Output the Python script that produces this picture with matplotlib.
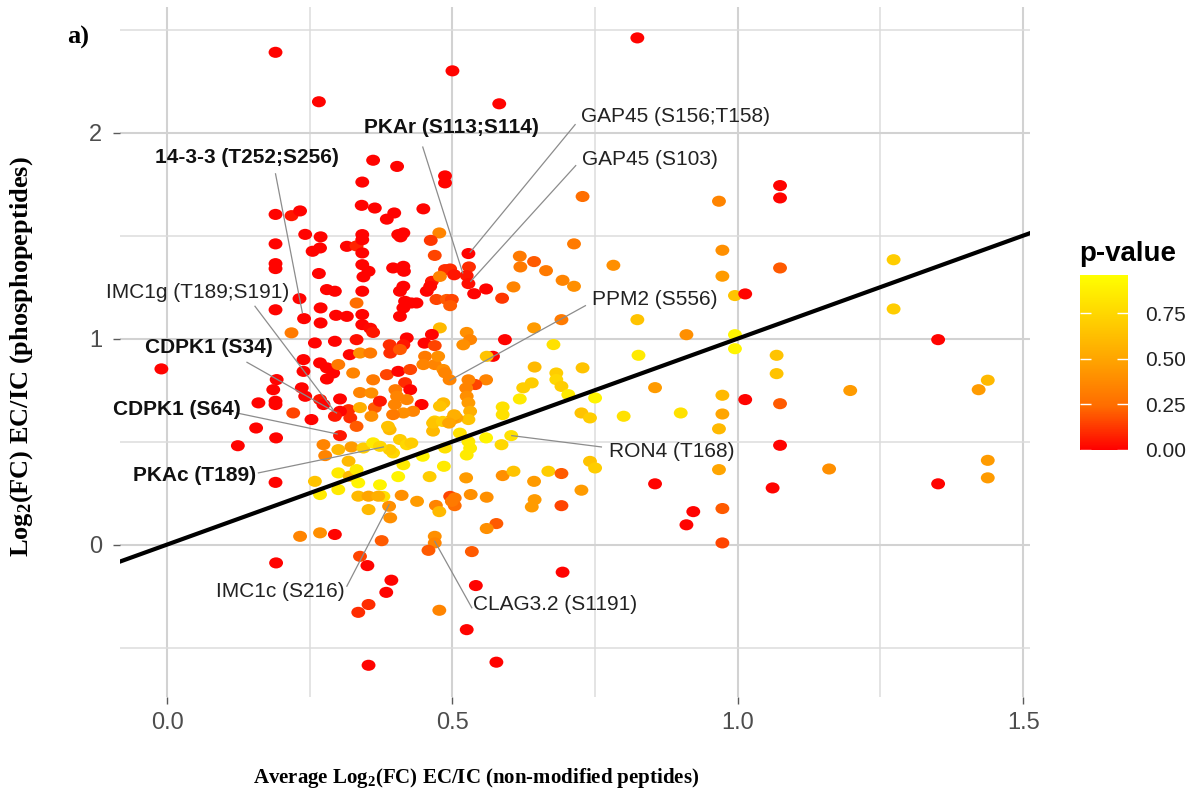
import matplotlib
matplotlib.use("Agg")
import matplotlib.pyplot as plt
import numpy as np
from matplotlib.path import Path
from matplotlib.colors import LinearSegmentedColormap, Normalize
from matplotlib.cm import ScalarMappable

# ---------------- data ----------------
avg_log2fc_nonmod = [
    0.19, 0.266, 0.50, 0.582, 0.824,
    0.361, 0.342, 0.341, 0.364, 0.19, 0.218, 0.233, 0.242, 0.269, 0.19, 0.255, 0.268, 0.315, 0.332,
    0.342, 0.342, 0.342, 0.342, 0.344, 0.353, 0.19, 0.19, 0.266, 0.28, 0.294, 0.342, 0.232, 0.332,
    0.19, 0.269, 0.24, 0.269, 0.296, 0.315, 0.342, 0.342, 0.356, 0.361, 0.218, 0.259, 0.294, 0.332,
    0.403, 0.487, 0.487, 0.398, 0.385, 0.449, 0.405, 0.409, 0.414, 0.477, 0.462, 0.469, 0.528, 0.529,
    0.525, 0.528, 0.538, 0.559, 0.587, 0.607, 0.618, 0.619, 0.643, 0.664, 0.693, 0.713, 0.713, 0.728,
    0.691, 0.643, 0.677, 0.592, 0.396, 0.414, 0.415, 0.414, 0.408, 0.417, 0.414, 0.428, 0.437, 0.408,
    0.455, 0.464, 0.461, 0.487, 0.496, 0.503, 0.478, 0.472, 0.49, 0.499, 0.496, 0.478, 0.464, 0.42,
    0.39, 0.414, 0.451, 0.469, 0.525, 0.531, 0.519,
    -0.01, 0.239, 0.268, 0.28, 0.291, 0.30, 0.239, 0.28, 0.192, 0.186, 0.236, 0.242, 0.268, 0.274,
    0.303, 0.318, 0.321, 0.332, 0.303, 0.294, 0.16, 0.19, 0.19, 0.221, 0.253, 0.156, 0.191, 0.124,
    0.303, 0.274, 0.277, 0.30, 0.323, 0.344, 0.318, 0.30, 0.32, 0.332, 0.259, 0.268, 0.30, 0.335,
    0.353, 0.353, 0.335, 0.233, 0.268, 0.294, 0.338, 0.191, 0.338, 0.358, 0.364, 0.358, 0.338, 0.326,
    0.19, 0.32, 0.338, 0.356, 0.361,
    0.571, 0.56, 0.495, 0.644, 0.682, 0.682, 0.691, 0.728, 0.624, 0.639, 0.618, 0.703, 0.75, 0.726,
    0.741, 0.588, 0.588, 0.559, 0.54, 0.528, 0.524, 0.525, 0.528, 0.531, 0.528, 0.507, 0.499, 0.484,
    0.478, 0.469, 0.466, 0.513, 0.528, 0.531, 0.525, 0.559, 0.586, 0.603, 0.487, 0.485, 0.46, 0.448,
    0.405, 0.414, 0.396, 0.39, 0.39, 0.387, 0.408, 0.42, 0.428, 0.524, 0.588, 0.607, 0.668, 0.691,
    0.643, 0.741, 0.75, 0.726, 0.644, 0.639, 0.691, 0.373, 0.379, 0.411, 0.438, 0.471, 0.477, 0.496,
    0.504, 0.504, 0.499, 0.532, 0.56, 0.577, 0.56, 0.389, 0.391, 0.469, 0.469, 0.458, 0.534, 0.376,
    0.391, 0.408, 0.452, 0.449, 0.469, 0.475, 0.484, 0.487, 0.385, 0.405, 0.426, 0.417, 0.426, 0.40,
    0.403, 0.42, 0.446, 0.431, 0.414, 0.396, 0.399, 0.373, 0.466, 0.483, 0.503, 0.494,
    0.967, 1.074, 1.074, 0.973, 0.782, 1.074, 0.973, 0.995, 1.013, 1.273, 1.273, 0.824, 0.91, 0.995,
    0.995, 1.351, 0.826, 0.855, 0.973, 1.013, 1.068, 1.068, 1.074, 1.197, 1.422, 1.438, 0.80, 0.90,
    0.973, 0.967, 1.074, 0.967, 1.16, 1.438, 1.438, 0.855, 1.061, 1.351, 0.922, 0.91, 0.973, 0.973,
    0.351, 0.393, 0.384, 0.353, 0.335, 0.353, 0.477, 0.541, 0.525, 0.577, 0.693, 0.37, 0.361, 0.373,
]
log2fc_phospho = [
    2.39, 2.15, 2.30, 2.14, 2.46,
    1.866, 1.76, 1.647, 1.634, 1.603, 1.597, 1.62, 1.506, 1.494, 1.46, 1.424, 1.44, 1.448, 1.45,
    1.505, 1.48, 1.416, 1.359, 1.30, 1.327, 1.364, 1.34, 1.316, 1.238, 1.23, 1.23, 1.194, 1.173,
    1.14, 1.149, 1.097, 1.076, 1.113, 1.108, 1.117, 1.068, 1.05, 1.03, 1.028, 0.979, 0.987, 0.995,
    1.836, 1.79, 1.756, 1.61, 1.58, 1.63, 1.505, 1.494, 1.513, 1.513, 1.477, 1.404, 1.413, 1.348,
    1.306, 1.267, 1.218, 1.241, 1.196, 1.251, 1.40, 1.348, 1.374, 1.33, 1.283, 1.254, 1.46, 1.69,
    1.092, 1.052, 0.971, 0.995, 1.343, 1.351, 1.327, 1.254, 1.23, 1.181, 1.149, 1.173, 1.173, 1.108,
    1.23, 1.278, 1.254, 1.335, 1.338, 1.31, 1.302, 1.19, 1.19, 1.19, 1.16, 1.052, 1.02, 1.003,
    0.97, 0.97, 0.978, 0.966, 1.03, 0.995, 0.97,
    0.853, 0.898, 0.882, 0.858, 0.833, 0.874, 0.841, 0.804, 0.801, 0.752, 0.761, 0.72, 0.704, 0.68,
    0.707, 0.655, 0.615, 0.574, 0.647, 0.623, 0.688, 0.696, 0.68, 0.639, 0.607, 0.566, 0.518, 0.48,
    0.529, 0.485, 0.432, 0.461, 0.474, 0.469, 0.405, 0.348, 0.332, 0.364, 0.307, 0.243, 0.267, 0.235,
    0.235, 0.17, 0.30, 0.04, 0.057, 0.049, -0.057, -0.089, 0.738, 0.736, 0.665, 0.623, 0.665, 0.833,
    0.302, 0.922, 0.93, 0.93, 0.80,
    0.914, 0.914, 0.80, 0.862, 0.833, 0.801, 0.768, 0.858, 0.761, 0.785, 0.707, 0.728, 0.712, 0.639,
    0.615, 0.668, 0.631, 0.80, 0.777, 0.80, 0.76, 0.72, 0.688, 0.647, 0.607, 0.615, 0.607, 0.688,
    0.672, 0.60, 0.551, 0.541, 0.50, 0.468, 0.435, 0.518, 0.485, 0.529, 0.469, 0.38, 0.33, 0.429,
    0.33, 0.388, 0.445, 0.461, 0.558, 0.574, 0.51, 0.485, 0.493, 0.324, 0.335, 0.356, 0.356, 0.345,
    0.307, 0.404, 0.372, 0.264, 0.218, 0.183, 0.189, 0.29, 0.234, 0.239, 0.21, 0.19, 0.16, 0.234,
    0.226, 0.189, 0.21, 0.243, 0.23, 0.102, 0.078, 0.186, 0.13, 0.04, 0.008, -0.028, -0.034, 0.019,
    0.93, 0.947, 0.914, 0.874, 0.874, 0.914, 0.85, 0.834, 0.825, 0.841, 0.85, 0.786, 0.752, 0.752,
    0.72, 0.704, 0.68, 0.647, 0.639, 0.631, 0.68, 0.696, 0.59, 0.598, 0.63, 0.59,
    1.667, 1.743, 1.683, 1.429, 1.356, 1.343, 1.303, 1.209, 1.217, 1.383, 1.144, 1.092, 1.019, 1.019,
    0.951, 0.995, 0.919, 0.762, 0.725, 0.704, 0.919, 0.83, 0.684, 0.748, 0.752, 0.798, 0.623, 0.639,
    0.634, 0.562, 0.482, 0.364, 0.367, 0.409, 0.324, 0.295, 0.275, 0.295, 0.16, 0.096, 0.175, 0.008,
    -0.102, -0.173, -0.232, -0.291, -0.329, -0.586, -0.319, -0.199, -0.413, -0.571, -0.134, 0.235, 0.494, 0.477,
]
p_value = [
    0.01, 0.01, 0.01, 0.01, 0.01,
    0.01, 0.01, 0.01, 0.01, 0.01, 0.05, 0.01, 0.01, 0.01, 0.01, 0.01, 0.01, 0.01, 0.08,
    0.01, 0.01, 0.01, 0.01, 0.01, 0.01, 0.01, 0.01, 0.01, 0.01, 0.01, 0.01, 0.01, 0.25,
    0.01, 0.01, 0.01, 0.01, 0.01, 0.01, 0.01, 0.01, 0.02, 0.05, 0.30, 0.01, 0.01, 0.03,
    0.01, 0.01, 0.01, 0.01, 0.01, 0.01, 0.01, 0.01, 0.01, 0.35, 0.12, 0.15, 0.01, 0.10,
    0.05, 0.03, 0.01, 0.01, 0.12, 0.35, 0.30, 0.30, 0.20, 0.30, 0.35, 0.40, 0.30, 0.25,
    0.30, 0.45, 0.80, 0.01, 0.01, 0.01, 0.01, 0.01, 0.01, 0.01, 0.01, 0.01, 0.01, 0.01,
    0.01, 0.05, 0.02, 0.10, 0.10, 0.05, 0.35, 0.15, 0.20, 0.15, 0.20, 0.60, 0.01, 0.01,
    0.10, 0.05, 0.01, 0.15, 0.40, 0.35, 0.40,
    0.01, 0.01, 0.01, 0.01, 0.01, 0.30, 0.01, 0.01, 0.01, 0.01, 0.01, 0.01, 0.05, 0.01,
    0.01, 0.10, 0.10, 0.20, 0.01, 0.05, 0.01, 0.01, 0.01, 0.15, 0.01, 0.01, 0.01, 0.01,
    0.05, 0.35, 0.35, 0.60, 0.45, 0.70, 0.60, 0.85, 0.60, 0.85, 0.65, 0.85, 0.85, 0.60,
    0.50, 0.60, 0.90, 0.35, 0.40, 0.01, 0.15, 0.01, 0.35, 0.40, 0.20, 0.40, 0.55, 0.35,
    0.01, 0.01, 0.40, 0.30, 0.30,
    0.01, 0.65, 0.35, 0.60, 0.70, 0.75, 0.70, 0.65, 0.70, 0.70, 0.85, 0.85, 0.90, 0.65,
    0.70, 0.80, 0.80, 0.35, 0.15, 0.35, 0.35, 0.40, 0.45, 0.55, 0.65, 0.50, 0.45, 0.60,
    0.65, 0.70, 0.60, 0.80, 0.85, 0.85, 0.85, 0.90, 0.75, 0.80, 0.80, 0.85, 0.70, 0.90,
    0.90, 0.85, 0.75, 0.70, 0.60, 0.65, 0.70, 0.75, 0.70, 0.45, 0.40, 0.65, 0.70, 0.20,
    0.45, 0.65, 0.70, 0.45, 0.45, 0.45, 0.15, 0.90, 0.80, 0.40, 0.45, 0.35, 0.60, 0.15,
    0.30, 0.25, 0.30, 0.40, 0.40, 0.20, 0.40, 0.40, 0.40, 0.40, 0.35, 0.20, 0.20, 0.20,
    0.10, 0.20, 0.30, 0.35, 0.35, 0.40, 0.40, 0.35, 0.15, 0.01, 0.15, 0.10, 0.01, 0.30,
    0.35, 0.35, 0.01, 0.35, 0.40, 0.30, 0.35, 0.05, 0.65, 0.70, 0.55, 0.50,
    0.35, 0.01, 0.01, 0.40, 0.40, 0.20, 0.45, 0.65, 0.01, 0.70, 0.70, 0.65, 0.40, 0.90,
    0.90, 0.01, 0.85, 0.45, 0.60, 0.01, 0.65, 0.65, 0.20, 0.45, 0.45, 0.60, 0.80, 0.80,
    0.50, 0.60, 0.01, 0.50, 0.40, 0.45, 0.45, 0.01, 0.01, 0.01, 0.01, 0.01, 0.20, 0.15,
    0.01, 0.01, 0.01, 0.10, 0.10, 0.01, 0.35, 0.01, 0.01, 0.01, 0.01, 0.55, 0.85, 0.75,
]

# labelled sites: text, text position, line start, line end (target point), bold
site_labels = ["14-3-3 (T252;S256)", "PKAr (S113;S114)", "GAP45 (S156;T158)", "GAP45 (S103)",
               "PPM2 (S556)", "RON4 (T168)", "IMC1g (T189;S191)", "CDPK1 (S34)",
               "CDPK1 (S64)", "PKAc (T189)", "IMC1c (S216)", "CLAG3.2 (S1191)"]
label_xy = [(0.14, 1.879), (0.499, 2.024), (0.89, 2.078), (0.846, 1.869),
            (0.855, 1.189), (0.884, 0.451), (0.053, 1.223), (0.074, 0.956),
            (0.018, 0.655), (0.049, 0.335), (0.198, -0.228), (0.68, -0.291)]
line_start = [(0.19, 1.80), (0.448, 1.93), (0.715, 2.039), (0.716, 1.84),
              (0.733, 1.16), (0.761, 0.474), (0.154, 1.157), (0.14, 0.885),
              (0.122, 0.639), (0.16, 0.348), (0.315, -0.202), (0.534, -0.307)]
line_end = [(0.237, 1.126), (0.518, 1.319), (0.531, 1.419), (0.532, 1.278),
            (0.496, 0.798), (0.604, 0.529), (0.291, 0.655), (0.297, 0.639),
            (0.298, 0.537), (0.379, 0.474), (0.389, 0.194), (0.469, 0.016)]
label_bold = [True, True, False, False, False, False, False, True, True, True, False, False]

x_ticks = [0.0, 0.5, 1.0, 1.5]
x_tick_labels = ["0.0", "0.5", "1.0", "1.5"]
y_ticks = [0, 1, 2]
y_tick_labels = ["0", "1", "2"]
cbar_ticks = [0.0, 0.25, 0.50, 0.75]
cbar_tick_labels = ["0.00", "0.25", "0.50", "0.75"]

# ---------------- style ----------------
SANS = ["Liberation Sans", "DejaVu Sans"]
SERIF = ["Liberation Serif", "DejaVu Serif"]
plt.rcParams["font.family"] = SANS
plt.rcParams["mathtext.fontset"] = "custom"
plt.rcParams["mathtext.rm"] = "Liberation Serif:bold"
plt.rcParams["mathtext.bf"] = "Liberation Serif:bold"
plt.rcParams["mathtext.it"] = "Liberation Serif:bold"

W, H = 1186, 796
fig = plt.figure(figsize=(W / 100, H / 100), dpi=100)
fig.patch.set_facecolor("white")

ax = fig.add_axes([120 / W, 1 - 697 / H, 910 / W, 690 / H])
ax.set_xlim(-0.0825, 1.512)
ax.set_ylim(-0.74, 2.61)
for s in ax.spines.values():
    s.set_visible(False)

ax.set_xticks(x_ticks)
ax.set_xticklabels(x_tick_labels)
ax.set_yticks(y_ticks)
ax.set_yticklabels(y_tick_labels)
ax.set_xticks([0.25, 0.75, 1.25], minor=True)
ax.set_yticks([-0.5, 0.5, 1.5, 2.5], minor=True)
ax.tick_params(axis="both", which="major", length=5, width=1.0, color="#5a5a5a",
               labelcolor="#4d4d4d", labelsize=17)
ax.tick_params(axis="x", which="major", pad=6)
ax.tick_params(axis="y", which="major", pad=8)
ax.tick_params(which="minor", length=0)
ax.grid(True, which="major", color="#d2d2d2", linewidth=1.5)
ax.grid(True, which="minor", color="#dcdcdc", linewidth=1.1)
ax.set_axisbelow(True)

cmap = LinearSegmentedColormap.from_list(
    "redyellow",
    [(0.0, "#FF0000"), (0.25, "#FF6C00"), (0.5, "#FFA100"), (0.75, "#FFD100"), (1.0, "#FFFF00")])
norm = Normalize(vmin=0.0, vmax=0.96)

circ = Path.unit_circle()
ellipse = Path(circ.vertices * np.array([1.0, 0.8]), circ.codes)

ax.scatter(avg_log2fc_nonmod, log2fc_phospho, c=p_value, cmap=cmap, norm=norm,
           s=100, marker=ellipse, linewidths=0, zorder=3)

ax.axline((0, 0), slope=1, color="black", linewidth=3.0, zorder=5)

for txt, (tx, ty), (sx, sy), (ex, ey), bold in zip(site_labels, label_xy, line_start,
                                                      line_end, label_bold):
    ax.plot([sx, ex], [sy, ey], color="#8c8c8c", linewidth=0.9, zorder=4)
    ax.text(tx, ty, txt, ha="center", va="center", fontsize=15,
            fontweight="bold" if bold else "normal",
            color="#111111" if bold else "#222222", zorder=6, family=SANS)

fig.text(22 / W, 1 - 357 / H, r"Log$_{2}$(FC) EC/IC (phosphopeptides)", rotation=90,
         ha="center", va="center", fontsize=19, fontweight="bold", family=SERIF)
fig.text(476 / W, 1 - 778 / H, r"Average Log$_{2}$(FC) EC/IC (non-modified peptides)",
         ha="center", va="center", fontsize=15, fontweight="bold", family=SERIF)
fig.text(78 / W, 1 - 37 / H, "a)", ha="center", va="center", fontsize=19,
         fontweight="bold", family=SERIF)

# colour bar
cax = fig.add_axes([1080 / W, 1 - 450 / H, 48 / W, 175 / H])
sm = ScalarMappable(norm=norm, cmap=cmap)
cb = fig.colorbar(sm, cax=cax)
cb.outline.set_visible(False)
cb.set_ticks(cbar_ticks)
cb.set_ticklabels(cbar_tick_labels)
cax.tick_params(which="major", direction="in", length=8, width=1.0, color="white",
                left=True, right=True, labelsize=15, labelcolor="#222222", pad=12)
cax.tick_params(which="minor", length=0)
fig.text(1128 / W, 1 - 254 / H, "p-value", ha="center", va="center", fontsize=20,
         fontweight="bold", family=SANS)

fig.savefig("out.png", dpi=100, facecolor="white")
